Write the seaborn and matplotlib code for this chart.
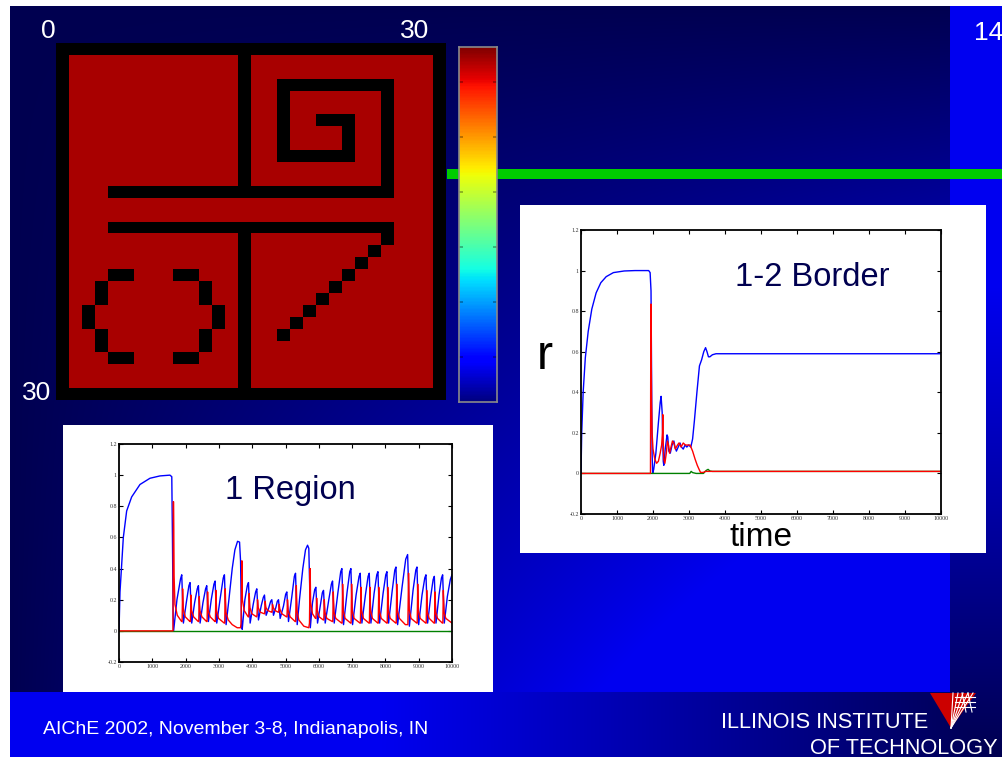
import numpy as np
import matplotlib
matplotlib.use("Agg")
import matplotlib.pyplot as plt
import seaborn as sns
from matplotlib.colors import ListedColormap
from matplotlib.patches import Rectangle, Polygon

W, H = 1002, 757

# ---------------- data ----------------
grid_rows = [
    "##############################",
    "#.............#..............#",
    "#.............#..............#",
    "#.............#..#########...#",
    "#.............#..#.......#...#",
    "#.............#..#.......#...#",
    "#.............#..#..###..#...#",
    "#.............#..#....#..#...#",
    "#.............#..#....#..#...#",
    "#.............#..######..#...#",
    "#.............#..........#...#",
    "#.............#..........#...#",
    "#...######################...#",
    "#............................#",
    "#............................#",
    "#...######################...#",
    "#.............#..........#...#",
    "#.............#.........#....#",
    "#.............#........#.....#",
    "#...##...##...#.......#......#",
    "#..#.......#..#......#.......#",
    "#..#.......#..#.....#........#",
    "#.#.........#.#....#.........#",
    "#.#.........#.#...#..........#",
    "#..#.......#..#..#...........#",
    "#..#.......#..#..............#",
    "#...##...##...#..............#",
    "#.............#..............#",
    "#.............#..............#",
    "##############################",
]
heat_colors = ["#000000", "#A80000"]

time_ticks = list(range(0, 10001, 1000))
r_ticks = [-0.2, 0.0, 0.2, 0.4, 0.6, 0.8, 1.0, 1.2]
r_tick_labels = ["-0.2", "0", "0.2", "0.4", "0.6", "0.8", "1", "1.2"]

# "1-2 Border" panel
border_blue_t = [0, 20, 60, 120, 200, 300, 420, 550, 700, 900, 1200, 1500, 1880, 1920, 1945, 1960, 1975, 1990,
                 2020, 2080, 2150, 2200, 2225, 2255, 2285, 2300, 2340, 2390, 2410, 2440, 2480, 2530, 2580, 2610,
                 2650, 2700, 2750, 2790, 2840, 2890, 2940, 2990, 3050,
                 3100, 3150, 3220, 3290, 3350, 3410, 3460, 3500, 3540, 3580, 3650, 3750, 3850, 4500, 5500, 6500,
                 7500, 8500, 9500, 10000]
border_blue_r = [0, 0.2, 0.4, 0.57, 0.7, 0.81, 0.89, 0.94, 0.97, 0.99, 0.998, 1.0, 1.0, 0.99, 0.9, 0.5, 0.1, 0.0,
                 0.02, 0.1, 0.25, 0.35, 0.38, 0.3, 0.06, 0.04, 0.12, 0.19, 0.18, 0.11, 0.1, 0.14, 0.16, 0.13,
                 0.11, 0.13, 0.15, 0.13, 0.12, 0.14, 0.13, 0.14, 0.13,
                 0.17, 0.26, 0.4, 0.53, 0.56, 0.6, 0.62, 0.6, 0.575, 0.575, 0.585, 0.59, 0.59, 0.59, 0.59, 0.59,
                 0.59, 0.59, 0.59, 0.59]
border_red_t = [0, 1930, 1940, 1950, 1960, 1975, 2000, 2050, 2100, 2150, 2200, 2240, 2262, 2272, 2285, 2300, 2330,
                2370, 2400, 2430, 2460, 2500, 2540, 2580, 2620, 2680, 2720, 2780, 2840, 2900, 2960, 3030, 3100,
                3170, 3230, 3280, 3320, 3400, 3450, 4000, 6000, 8000, 10000]
border_red_r = [0, 0, 0.835, 0.6, 0.35, 0.2, 0.12, 0.07, 0.05, 0.06, 0.1, 0.14, 0.2, 0.29, 0.15, 0.07, 0.05,
                0.1, 0.16, 0.14, 0.1, 0.13, 0.16, 0.15, 0.12, 0.14, 0.15, 0.13, 0.15, 0.14, 0.14, 0.14, 0.11,
                0.07, 0.04, 0.02, 0.005, 0.005, 0.01, 0.01, 0.01, 0.01, 0.01]
border_green_t = [0, 3020, 3060, 3100, 3200, 3400, 3480, 3530, 3580, 3650, 10000]
border_green_r = [0, 0, 0.01, 0.004, 0.0, 0.0, 0.015, 0.02, 0.012, 0.01, 0.01]

# "1 Region" panel
region_blue_t = [0, 30, 130, 230, 380, 630, 930, 1230, 1530, 1585, 1605, 1625, 1640,
                 1740, 1849, 1884, 1909, 1934,
                 2020, 2099, 2134, 2159, 2184,
                 2270, 2350, 2385, 2410, 2435,
                 2520, 2600, 2635, 2660, 2685,
                 2770, 2851, 2886, 2911, 2936,
                 3040, 3131, 3166, 3191, 3216,
                 3300, 3400, 3480, 3560, 3620, 3650, 3680, 3700,
                 3780, 3853, 3888, 3913, 3938,
                 4030, 4103, 4138, 4163, 4188,
                 4270, 4334, 4369, 4394, 4419,
                 4500, 4554, 4589, 4614, 4639,
                 4710, 4755, 4790, 4815, 4840,
                 4940, 5005, 5040, 5065, 5090,
                 5190, 5266, 5301, 5326, 5351,
                 5420, 5520, 5600, 5662, 5700, 5725, 5745,
                 5810, 5877, 5912, 5937, 5962,
                 6050, 6107, 6142, 6167, 6192,
                 6300, 6378, 6413, 6438, 6463,
                 6570, 6658, 6693, 6718, 6743,
                 6850, 6929, 6964, 6989, 7014,
                 7120, 7209, 7244, 7269, 7294,
                 7400, 7480, 7515, 7540, 7565,
                 7660, 7741, 7776, 7801, 7826,
                 7930, 8011, 8046, 8071, 8096,
                 8200, 8282, 8317, 8342, 8367,
                 8500, 8610, 8667, 8695, 8720,
                 8830, 8913, 8948, 8973, 8998,
                 9100, 9183, 9218, 9243, 9268,
                 9360, 9434, 9469, 9494, 9519,
                 9610, 9684, 9719, 9744, 9769,
                 9860, 9950, 10000]
region_blue_r = [0.0, 0.25, 0.6, 0.77, 0.86, 0.94, 0.98, 0.995, 1.0, 0.99, 0.6, 0.1, 0.0,
                 0.2, 0.335, 0.36, 0.2, 0.05,
                 0.18, 0.29, 0.31, 0.18, 0.05,
                 0.18, 0.27, 0.29, 0.17, 0.05,
                 0.18, 0.27, 0.29, 0.17, 0.06,
                 0.2, 0.30, 0.32, 0.19, 0.05,
                 0.21, 0.34, 0.36, 0.2, 0.04,
                 0.2, 0.40, 0.52, 0.575, 0.57, 0.45, 0.05, 0.01,
                 0.2, 0.29, 0.31, 0.18, 0.05,
                 0.17, 0.25, 0.27, 0.17, 0.07,
                 0.16, 0.215, 0.23, 0.16, 0.10,
                 0.15, 0.19, 0.20, 0.15, 0.10,
                 0.15, 0.19, 0.20, 0.14, 0.08,
                 0.16, 0.235, 0.25, 0.15, 0.06,
                 0.22, 0.35, 0.37, 0.2, 0.04,
                 0.2, 0.40, 0.52, 0.55, 0.53, 0.3, 0.02,
                 0.18, 0.265, 0.28, 0.17, 0.05,
                 0.17, 0.245, 0.26, 0.16, 0.05,
                 0.2, 0.30, 0.32, 0.18, 0.05,
                 0.24, 0.38, 0.40, 0.22, 0.04,
                 0.25, 0.38, 0.40, 0.22, 0.04,
                 0.23, 0.35, 0.37, 0.2, 0.05,
                 0.23, 0.35, 0.37, 0.2, 0.05,
                 0.24, 0.36, 0.38, 0.21, 0.05,
                 0.24, 0.36, 0.38, 0.21, 0.05,
                 0.25, 0.39, 0.41, 0.22, 0.04,
                 0.28, 0.46, 0.49, 0.3, 0.03,
                 0.26, 0.39, 0.41, 0.22, 0.04,
                 0.23, 0.34, 0.36, 0.2, 0.05,
                 0.22, 0.33, 0.35, 0.19, 0.05,
                 0.23, 0.34, 0.36, 0.2, 0.05,
                 0.22, 0.33, 0.36]
region_red_t = [0, 1620, 1635, 1645, 1655, 1680, 1750, 1880,
                1895, 1910, 1930, 1990, 2130,
                2145, 2160, 2180, 2240, 2380,
                2395, 2410, 2430, 2490, 2630,
                2645, 2660, 2680, 2740, 2880,
                2895, 2910, 2930, 2990, 3160,
                3175, 3190, 3210, 3280, 3400, 3550, 3650,
                3665, 3690, 3705, 3760, 3880,
                3895, 3910, 3930, 3990, 4130,
                4145, 4160, 4180, 4240, 4360,
                4375, 4390, 4410, 4470, 4580,
                4595, 4610, 4630, 4690, 4780,
                4795, 4810, 4830, 4890, 5030,
                5045, 5060, 5080, 5140, 5290,
                5305, 5325, 5345, 5400, 5550, 5700,
                5720, 5740, 5755, 5810, 5900,
                5915, 5935, 5955, 6010, 6135,
                6150, 6165, 6185, 6240, 6405,
                6420, 6435, 6455, 6510, 6685,
                6700, 6715, 6735, 6790, 6955,
                6970, 6985, 7005, 7060, 7235,
                7250, 7265, 7285, 7340, 7505,
                7520, 7535, 7555, 7610, 7770,
                7785, 7800, 7820, 7875, 8040,
                8055, 8070, 8090, 8145, 8310,
                8325, 8340, 8360, 8420, 8600, 8660,
                8675, 8695, 8715, 8770, 8940,
                8955, 8970, 8990, 9045, 9210,
                9225, 9240, 9260, 9315, 9460,
                9475, 9490, 9510, 9565, 9710,
                9725, 9740, 9760, 9815, 10000]
region_red_r = [0, 0, 0.83, 0.65, 0.35, 0.17, 0.1, 0.06,
                0.06, 0.27, 0.14, 0.09, 0.06,
                0.06, 0.23, 0.13, 0.09, 0.06,
                0.06, 0.22, 0.13, 0.09, 0.06,
                0.06, 0.25, 0.13, 0.09, 0.06,
                0.06, 0.26, 0.13, 0.08, 0.05,
                0.05, 0.27, 0.12, 0.07, 0.04, 0.02, 0.02,
                0.05, 0.45, 0.2, 0.13, 0.09,
                0.09, 0.24, 0.15, 0.11, 0.09,
                0.1, 0.2, 0.15, 0.12, 0.11,
                0.11, 0.19, 0.15, 0.13, 0.12,
                0.12, 0.17, 0.15, 0.13, 0.12,
                0.12, 0.17, 0.14, 0.11, 0.09,
                0.09, 0.2, 0.13, 0.09, 0.06,
                0.06, 0.29, 0.13, 0.07, 0.03, 0.02,
                0.05, 0.40, 0.18, 0.11, 0.08,
                0.08, 0.21, 0.13, 0.09, 0.07,
                0.07, 0.2, 0.12, 0.08, 0.06,
                0.06, 0.25, 0.12, 0.08, 0.05,
                0.05, 0.3, 0.13, 0.08, 0.05,
                0.05, 0.3, 0.13, 0.08, 0.05,
                0.05, 0.28, 0.13, 0.08, 0.05,
                0.05, 0.28, 0.13, 0.08, 0.05,
                0.05, 0.28, 0.13, 0.08, 0.05,
                0.05, 0.28, 0.13, 0.08, 0.05,
                0.05, 0.3, 0.13, 0.08, 0.04, 0.04,
                0.04, 0.37, 0.14, 0.08, 0.05,
                0.05, 0.3, 0.13, 0.08, 0.05,
                0.05, 0.26, 0.12, 0.08, 0.05,
                0.05, 0.25, 0.12, 0.08, 0.05,
                0.05, 0.26, 0.12, 0.08, 0.05]
region_green_t = [0, 10000]
region_green_r = [0.0, 0.0]

for a, b in [(border_blue_t, border_blue_r), (border_red_t, border_red_r), (border_green_t, border_green_r),
             (region_blue_t, region_blue_r), (region_red_t, region_red_r), (region_green_t, region_green_r)]:
    assert len(a) == len(b), (len(a), len(b))
assert all(len(r) == 30 for r in grid_rows)

grid = np.array([[1 if c == "." else 0 for c in row] for row in grid_rows])

# ---------------- figure ----------------
fig = plt.figure(figsize=(W / 100, H / 100), dpi=100)


def fx(x):
    return x / W


def fy(y):
    return 1 - y / H


def rect(x0, y0, x1, y1):
    return [fx(x0), fy(y1), (x1 - x0) / W, (y1 - y0) / H]


# background slide (two corner gradients)
ax_bg = fig.add_axes([0, 0, 1, 1])
yy, xx = np.mgrid[0:H, 0:W] + 0.5
dark = np.array([0, 0, 0x50]) / 255
bright = np.array([0, 0, 0xF0]) / 255
t_out = np.maximum((W - xx) / (W - 10), (H - yy) / (H - 6))
f_out = np.clip(t_out * 1.6, 0, 1)
p_main = np.clip(1 - (950 - xx) / 940, 0, 1) * np.clip(1 - (692 - yy) / 686, 0, 1)
f_main = np.clip(p_main * 1.6, 0, 1)
in_main = (xx >= 10) & (xx < 950) & (yy >= 6) & (yy < 692)
f = np.where(in_main, f_main, f_out)
rgb = dark + (bright - dark) * f[..., None]
rgb[(xx < 10) | (yy < 6)] = 1.0
ax_bg.imshow(rgb, extent=[0, W, H, 0], aspect="auto", interpolation="nearest")
ax_bg.set_xlim(0, W)
ax_bg.set_ylim(H, 0)
ax_bg.axis("off")

# green line
ax_bg.add_patch(Rectangle((447, 169), W - 447, 9.5, color="#00CC00", lw=0))
# white panels
ax_bg.add_patch(Rectangle((520, 205), 466, 348, color="white", lw=0))
ax_bg.add_patch(Rectangle((63, 425), 430, 267, color="white", lw=0))
# logo
ax_bg.add_patch(Polygon([(930, 693), (976, 693), (951, 728)], closed=True, color="#CC0000", lw=0))
for xe in [953, 958, 963, 968, 973]:
    ax_bg.plot([951, xe], [728, 693], color="white", lw=0.8)
for ye in [697, 702, 707]:
    ax_bg.plot([955, 975], [ye, ye], color="white", lw=0.8)
for xe in [962, 968]:
    ax_bg.plot([xe, xe + 4], [693, 712], color="white", lw=0.8)

# heatmap
ax_hm = fig.add_axes(rect(56, 43, 446, 400))
sns.heatmap(grid, cmap=ListedColormap(heat_colors), cbar=False, xticklabels=False, yticklabels=False,
            ax=ax_hm, vmin=0, vmax=1)

# colour bar
ax_cb = fig.add_axes(rect(459, 47, 497, 402))
sns.heatmap(np.linspace(1, 0, 256)[:, None], cmap="jet", cbar=False, xticklabels=False, yticklabels=False,
            ax=ax_cb)
for s in ax_cb.spines.values():
    s.set_visible(True)
    s.set_color("#8a8a8a")
    s.set_linewidth(1.2)
ax_cb.set_yticks([256 * v for v in [0.099, 0.254, 0.408, 0.563, 0.718, 0.873]])
ax_cb.tick_params(axis="y", direction="in", length=3, width=1.2, color=(0, 0, 0, 0.35),
                  left=True, right=True, labelleft=False, labelright=False)


def style_lines(ax):
    ax.set_xlim(0, 10000)
    ax.set_ylim(-0.2, 1.2)
    ax.set_facecolor("white")
    ax.set_xticks(time_ticks, labels=[str(t) for t in time_ticks], fontfamily="Liberation Serif",
                  fontsize=4.3, color="#333333")
    ax.set_yticks(r_ticks, labels=r_tick_labels, fontfamily="Liberation Serif", fontsize=4.3, color="#333333")
    ax.tick_params(direction="in", length=3, width=0.8, top=True, right=True, pad=1.5)
    ax.set_xlabel("")
    ax.set_ylabel("")
    for s in ax.spines.values():
        s.set_visible(True)
        s.set_color("black")
        s.set_linewidth(1.3)


# 1-2 Border panel
ax_b = fig.add_axes(rect(581, 230, 941, 514))
sns.lineplot(x=border_blue_t, y=border_blue_r, ax=ax_b, color="#0000FF", linewidth=1.0, estimator=None)
sns.lineplot(x=border_green_t, y=border_green_r, ax=ax_b, color="#008000", linewidth=1.0, estimator=None)
sns.lineplot(x=border_red_t, y=border_red_r, ax=ax_b, color="#FF0000", linewidth=1.0, estimator=None)
style_lines(ax_b)

# 1 Region panel
ax_r = fig.add_axes(rect(119, 444, 452, 662))
sns.lineplot(x=region_blue_t, y=region_blue_r, ax=ax_r, color="#0000FF", linewidth=1.0, estimator=None)
sns.lineplot(x=region_green_t, y=region_green_r, ax=ax_r, color="#008000", linewidth=1.0, estimator=None)
sns.lineplot(x=region_red_t, y=region_red_r, ax=ax_r, color="#FF0000", linewidth=1.0, estimator=None)
style_lines(ax_r)

# texts
sans = "Liberation Sans"
fig.text(fx(48), fy(31), "0", color="white", fontsize=19, family=sans, ha="center", va="center")
fig.text(fx(415), fy(31), "30", color="white", fontsize=19, family=sans, ha="center", va="center")
fig.text(fx(37), fy(393), "30", color="white", fontsize=19, family=sans, ha="center", va="center")
fig.text(fx(974), fy(33), "14", color="white", fontsize=19, family=sans, ha="left", va="center")

fig.text(fx(812), fy(278), "1-2 Border", color="#000050", fontsize=23.5, family=sans, ha="center", va="center")
fig.text(fx(290), fy(491), "1 Region", color="#000050", fontsize=23.5, family=sans, ha="center", va="center")
fig.text(fx(545), fy(357), "r", color="black", fontsize=35, family=sans, ha="center", va="center")
fig.text(fx(761), fy(538), "time", color="black", fontsize=24, family=sans, ha="center", va="center")

fig.text(fx(43), fy(729), "AIChE 2002, November 3-8, Indianapolis, IN", color="white", fontsize=14,
         family=sans, ha="left", va="center")
fig.text(fx(928), fy(723), "ILLINOIS INSTITUTE", color="white", fontsize=15.7, family=sans, ha="right",
         va="center")
fig.text(fx(998), fy(748), "OF TECHNOLOGY", color="white", fontsize=15.7, family=sans, ha="right", va="center")

fig.savefig("out.png", dpi=100)
